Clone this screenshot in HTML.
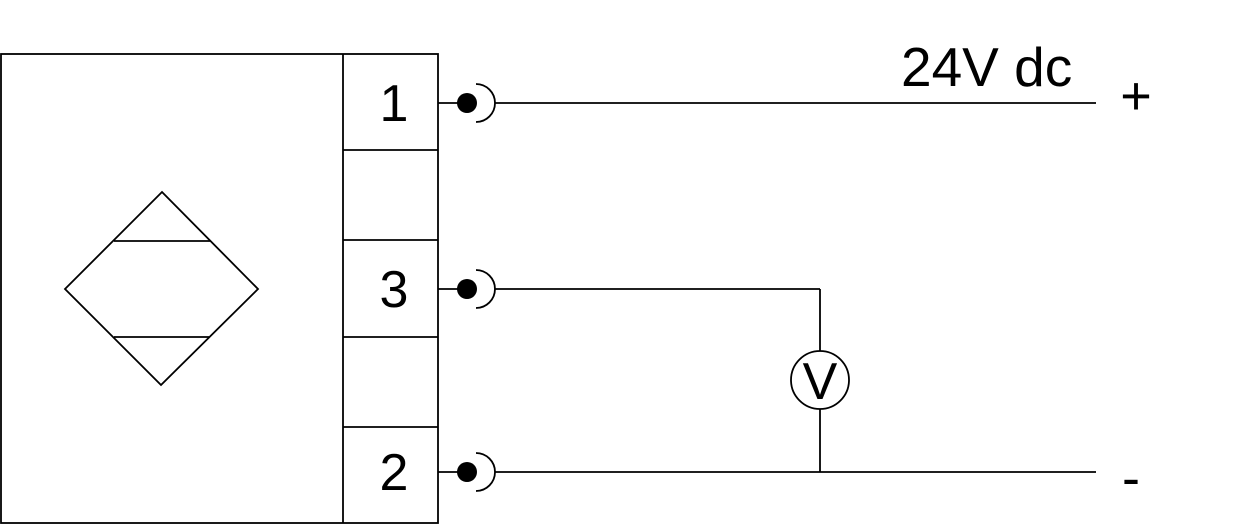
<!DOCTYPE html>
<html><head><meta charset="utf-8"><style>
html,body{margin:0;padding:0;background:#fff;}
svg{display:block;}
text{font-family:"Liberation Sans",Arial,sans-serif;fill:#000;}
</style></head><body>
<svg width="1252" height="524" viewBox="0 0 1252 524" xmlns="http://www.w3.org/2000/svg">
<g stroke="#000" stroke-width="1.8" fill="none">
<rect x="1" y="54" width="437" height="469"/>
<line x1="343" y1="54" x2="343" y2="523"/>
<line x1="343" y1="150" x2="438" y2="150"/>
<line x1="343" y1="240" x2="438" y2="240"/>
<line x1="343" y1="337" x2="438" y2="337"/>
<line x1="343" y1="427" x2="438" y2="427"/>
<polygon points="162,192 258,289 161,385 65,289"/>
<line x1="114" y1="241" x2="210" y2="241"/>
<line x1="114" y1="337" x2="209" y2="337"/>
<line x1="438" y1="103" x2="458" y2="103"/>
<path d="M476,84 A19,19 0 0 1 476,122"/>
<line x1="495" y1="103" x2="1096" y2="103"/>
<line x1="438" y1="289" x2="458" y2="289"/>
<path d="M476,270 A19,19 0 0 1 476,308"/>
<line x1="495" y1="289" x2="820" y2="289"/>
<line x1="820" y1="289" x2="820" y2="351"/>
<circle cx="820" cy="380" r="29"/>
<line x1="820" y1="409" x2="820" y2="472"/>
<line x1="438" y1="472" x2="458" y2="472"/>
<path d="M476,453 A19,19 0 0 1 476,491"/>
<line x1="495" y1="472" x2="1096" y2="472"/>
</g>
<g fill="#000">
<circle cx="467" cy="103" r="10"/>
<circle cx="467" cy="289" r="10"/>
<circle cx="467" cy="472" r="10"/>
</g>
<text x="394" y="121" font-size="52" text-anchor="middle">1</text>
<text x="394" y="307" font-size="52" text-anchor="middle">3</text>
<text x="394" y="490" font-size="52" text-anchor="middle">2</text>
<text x="820" y="399" font-size="52" text-anchor="middle">V</text>
<text x="901" y="86" font-size="55">24V dc</text>
<text x="1136" y="114" font-size="54" text-anchor="middle">+</text>
<text x="1131" y="496" font-size="54" text-anchor="middle">-</text>
</svg>
</body></html>
